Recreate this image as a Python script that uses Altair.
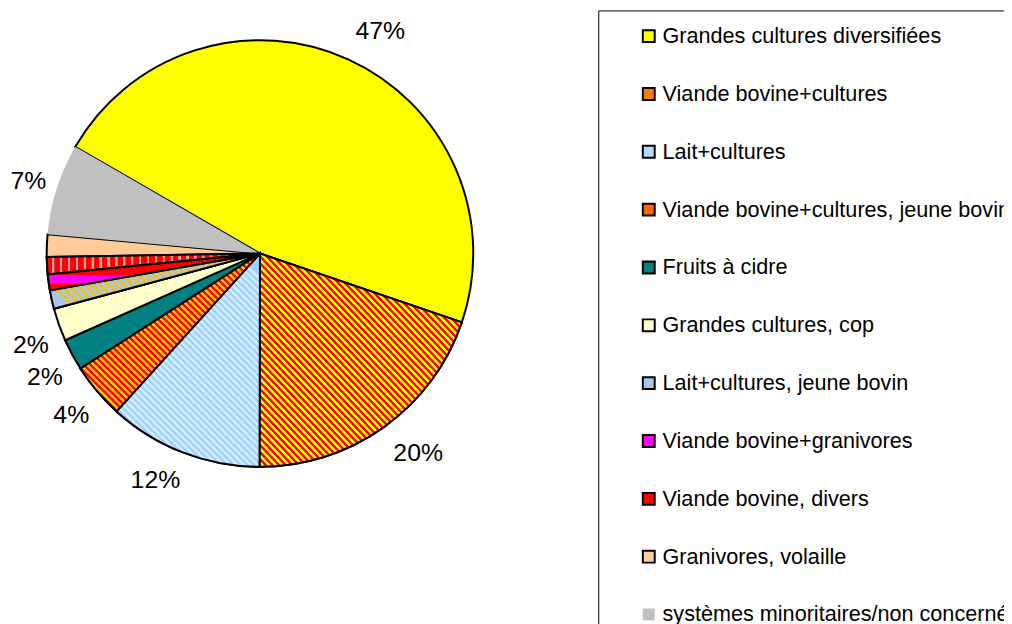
import math
import altair as alt
import pandas as pd

# ---------------- data ----------------
categories = [
    "Grandes cultures diversifiées",
    "Viande bovine+cultures",
    "Lait+cultures",
    "Viande bovine+cultures, jeune bovin",
    "Fruits à cidre",
    "Grandes cultures, cop",
    "Lait+cultures, jeune bovin",
    "Viande bovine+granivores",
    "Viande bovine, divers",
    "Granivores, volaille",
    "systèmes minoritaires/non concernés",
]
values = [46.9, 19.8, 11.7, 4.2, 2.4, 2.5, 1.4, 1.2, 1.3, 1.7, 6.9]
labels = ["47%", "20%", "12%", "4%", "2%", "2%", "", "", "", "", "7%"]

legend_colors = ["#ffff00", "#ff7a00", "#b3dbff", "#ff6400", "#008080", "#ffffcc",
                 "#a9c6e0", "#ff00ff", "#ff0000", "#ffcc99", "#c0c0c0"]
outline_colors = ["black"] * 10 + ["transparent"]

# ---------------- style ----------------
FONT = "Liberation Sans"
CX, CY, R = 254, 245, 215
START = math.radians(300.0)


def stripes(c1, c2, n, x1, y1, x2, y2, frac=0.5, soft=0.15):
    stops = []
    for k in range(n):
        a = k / n
        stops += [
            {"offset": round(a, 5), "color": c1},
            {"offset": round(a + (frac - soft) / n, 5), "color": c1},
            {"offset": round(a + frac / n, 5), "color": c2},
            {"offset": round(a + (1 - soft) / n, 5), "color": c2},
        ]
    stops.append({"offset": 1, "color": c1})
    return {"gradient": "linear", "x1": x1, "y1": y1, "x2": x2, "y2": y2, "stops": stops}


patterns = {
    "Viande bovine+cultures": stripes("#ff0000", "#ffff00", 61, 0, 1, 1, 0),
    "Lait+cultures": stripes("#9fd0ff", "#d4edff", 46, 0.165, 1, 0.835, 0),
    "Viande bovine+cultures, jeune bovin": stripes("#ff0000", "#ffc800", 48, 0, 0.942, 1, 0.058),
    "Lait+cultures, jeune bovin": stripes("#a8c8e8", "#f0c020", 28, 0, 0.6275, 1, 0.3725, soft=0.05),
    "Viande bovine, divers": stripes("#ff0000", "#d0a4a4", 27, 0, 0, 1, 0, frac=0.7, soft=0.05),
    "Viande bovine+granivores": {
        "gradient": "linear", "x1": 0, "y1": 0, "x2": 0, "y2": 1,
        "stops": [
            {"offset": 0, "color": "#ff0000"},
            {"offset": 0.58, "color": "#ff0000"},
            {"offset": 0.59, "color": "#ff00ff"},
            {"offset": 0.81, "color": "#ff00ff"},
            {"offset": 0.82, "color": "#ff0000"},
            {"offset": 1, "color": "#ff0000"},
        ],
    },
}

df = pd.DataFrame({
    "cat": categories,
    "value": values,
    "label": labels,
    "order": list(range(len(categories))),
})

theta_scale = alt.Scale(domain=[0, 1], range=[START, START + 2 * math.pi])

base = (
    alt.Chart(df)
    .transform_joinaggregate(total="sum(value)")
    .transform_window(cum="sum(value)", sort=[alt.SortField("order", order="ascending")])
    .transform_calculate(
        start="(datum.cum - datum.value) / datum.total",
        end="datum.cum / datum.total",
        mid="(datum.cum - datum.value / 2) / datum.total",
    )
    .transform_calculate(ang=f"{START} + 2 * PI * datum.mid")
    .transform_calculate(s="sin(datum.ang)", c="cos(datum.ang)")
)

legend = alt.Legend(
    title=None,
    orient="none",
    legendX=595,
    legendY=0,
    symbolType="square",
    symbolSize=144,
    symbolStrokeWidth=2,
    symbolOffset=25,
    labelFont=FONT,
    labelFontSize=21.8,
    labelColor="black",
    labelOffset=3,
    labelLimit=1000,
    rowPadding=35.3,
    padding=15,
    strokeColor="black",
    fillColor="white",
)

arcs = base.mark_arc(outerRadius=R, strokeWidth=2).encode(
    theta=alt.Theta("start:Q", scale=theta_scale),
    theta2="end:Q",
    color=alt.Color("cat:N", scale=alt.Scale(domain=categories, range=legend_colors), legend=legend),
    stroke=alt.Stroke("cat:N", scale=alt.Scale(domain=categories, range=outline_colors), legend=legend),
    x=alt.value(CX),
    y=alt.value(CY),
)

layers = [arcs]
for cat, grad in patterns.items():
    layers.append(
        base.transform_filter(alt.datum.cat == cat)
        .mark_arc(outerRadius=R, stroke="black", strokeWidth=2, fill=grad)
        .encode(
            theta=alt.Theta("start:Q", scale=theta_scale),
            theta2="end:Q",
            x=alt.value(CX),
            y=alt.value(CY),
        )
    )

TH = 0.32
label_rules = [
    (f"datum.s >= 0 && datum.c >= {TH}", "left", "bottom", -4),
    (f"datum.s >= 0 && datum.c <= -{TH}", "left", "top", 4),
    (f"datum.s >= 0 && abs(datum.c) < {TH}", "left", "middle", -4),
    (f"datum.s < 0 && datum.c >= {TH}", "right", "bottom", -4),
    (f"datum.s < 0 && datum.c <= -{TH}", "right", "top", 4),
    (f"datum.s < 0 && abs(datum.c) < {TH}", "right", "middle", -4),
]
for cond, al, bl, ddy in label_rules:
    layers.append(
        base.transform_filter(f"datum.label != '' && {cond}")
        .mark_text(align=al, baseline=bl, radius=228, dy=ddy, dx=2, font=FONT, fontSize=25, color="black")
        .encode(
            theta=alt.Theta("mid:Q", scale=theta_scale),
            text="label:N",
            x=alt.value(CX),
            y=alt.value(CY),
        )
    )

chart = (
    alt.layer(*layers)
    .properties(width=1004, height=616, autosize=alt.AutoSizeParams(type="none"), padding=0, background="white")
    .configure_view(strokeWidth=0)
)

chart.save("out.html", embed_options={"renderer": "svg", "actions": False})
